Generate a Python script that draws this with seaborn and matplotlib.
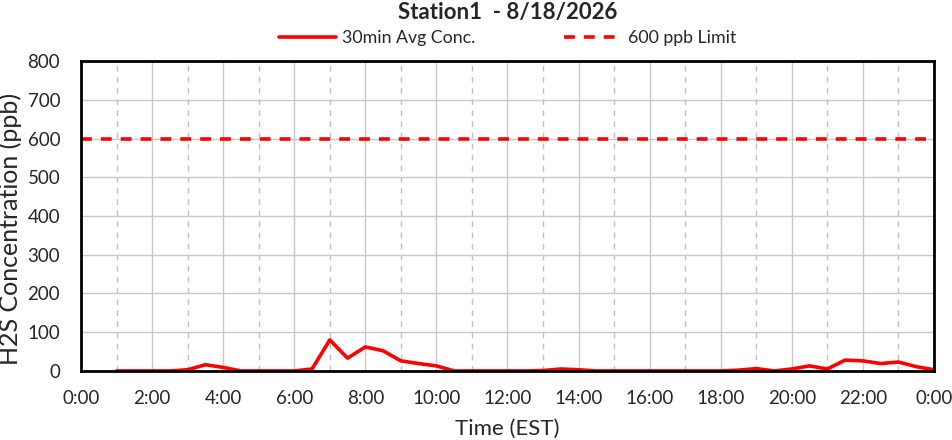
import numpy as np
import pandas as pd
import matplotlib as mpl
mpl.use('Agg')
import matplotlib.pyplot as plt
from matplotlib.ticker import MultipleLocator, FuncFormatter
import seaborn as sns

# 30-minute averages, hours since midnight (1:00 .. 24:00)
hours = [1.0, 1.5, 2.0, 2.5, 3.0, 3.5, 4.0, 4.5, 5.0, 5.5, 6.0, 6.5, 7.0, 7.5,
         8.0, 8.5, 9.0, 9.5, 10.0, 10.5, 11.0, 11.5, 12.0, 12.5, 13.0, 13.5,
         14.0, 14.5, 15.0, 15.5, 16.0, 16.5, 17.0, 17.5, 18.0, 18.5, 19.0,
         19.5, 20.0, 20.5, 21.0, 21.5, 22.0, 22.5, 23.0, 23.5, 24.0]
conc = [0, 0, 0, 0, 3, 16, 9, 0, 0, 0, 0, 5, 80, 33,
        62, 52, 26, 19, 13, 0, 0, 0, 0, 0, 1, 5,
        3, 0, 0, 0, 0, 0, 0, 0, 0, 2, 6,
        0, 5, 13, 5, 28, 26, 19, 23, 11, 3]
limit_hours = [0, 24]
limit_vals = [600, 600]

df = pd.DataFrame({"hour": hours, "conc": conc})
lim = pd.DataFrame({"hour": limit_hours, "conc": limit_vals})

sns.set_style("white")
plt.rcParams['font.family'] = ['Lato', 'DejaVu Sans']

fig = plt.figure(figsize=(9.53, 4.4), dpi=100)
ax = fig.add_axes([0.085, 0.157, 0.895, 0.704])

sns.lineplot(data=df, x="hour", y="conc", ax=ax, color="#ff0000", linewidth=2.6,
             label="30min Avg Conc.")
sns.lineplot(data=lim, x="hour", y="conc", ax=ax, color="#ff0000", linewidth=2.6,
             linestyle=(0, (3, 2.5)), label="600 ppb Limit")

ax.set_xlim(0, 24)
ax.set_ylim(0, 800)
ax.xaxis.set_major_locator(MultipleLocator(2))
ax.xaxis.set_minor_locator(MultipleLocator(1))
ax.yaxis.set_major_locator(MultipleLocator(100))
ax.xaxis.set_major_formatter(FuncFormatter(lambda v, p: "%d:00" % (int(round(v)) % 24)))

ax.grid(True, which="major", axis="both", color="#c8c8c8", linewidth=1, linestyle="-")
ax.grid(True, which="minor", axis="x", color="#c0c0c0", linewidth=1, linestyle=(0, (4, 4)))
ax.set_axisbelow(True)

for s in ax.spines.values():
    s.set_color("black")
    s.set_linewidth(2)

ax.tick_params(axis="both", which="both", direction="in", color="black", width=2,
               labelsize=13.5, pad=14)
ax.tick_params(axis="y", pad=15)
ax.tick_params(axis="both", which="major", length=5)
ax.tick_params(axis="x", which="minor", length=5)

ax.set_xlabel("Time (EST)", fontsize=16, labelpad=8)
ax.set_ylabel("H2S Concentration (ppb)", fontsize=18)
ax.yaxis.set_label_coords(-0.069, 0.458)
ax.set_title("Station1  - 8/18/2026", fontsize=16, fontweight="bold", pad=30)

ax.legend(loc="lower center", bbox_to_anchor=(0.5, 1.02), ncol=2, frameon=False,
          fontsize=12.8, handlelength=3.2, handletextpad=0.35, columnspacing=5,
          borderaxespad=0.1)

fig.savefig("out.png", dpi=100)
